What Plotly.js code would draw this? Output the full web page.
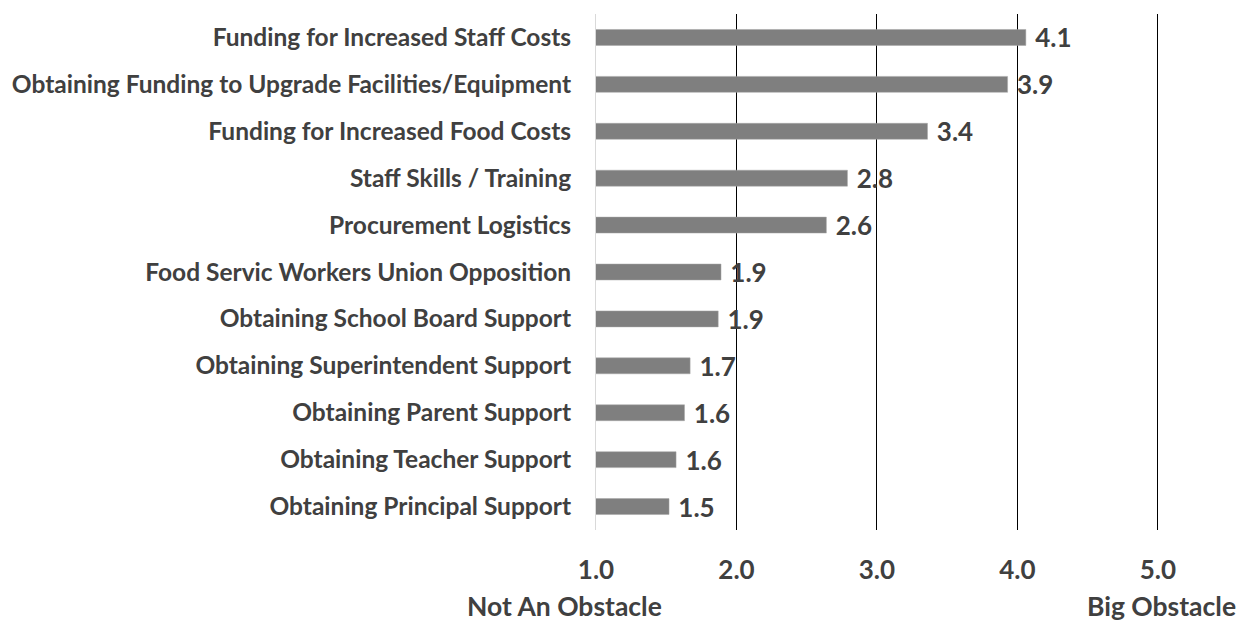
<!DOCTYPE html>
<html>
<head>
<meta charset="utf-8">
<script src="https://cdn.plot.ly/plotly-3.0.1.min.js"></script>
<style>html,body{margin:0;padding:0;background:#fff;}#chart{width:1249px;height:622px;}</style>
</head>
<body>
<div id="chart"></div>
<script>
const categories = [
  "Funding for Increased Staff Costs",
  "Obtaining Funding to Upgrade Facilities/Equipment",
  "Funding for Increased Food Costs",
  "Staff Skills / Training",
  "Procurement Logistics",
  "Food Servic Workers Union Opposition",
  "Obtaining School Board Support",
  "Obtaining Superintendent Support",
  "Obtaining Parent Support",
  "Obtaining Teacher Support",
  "Obtaining Principal Support"
];
const values = [4.06, 3.93, 3.36, 2.79, 2.64, 1.89, 1.87, 1.67, 1.63, 1.57, 1.52];
const tickVals = [1, 2, 3, 4, 5];
const tickText = ["1.0", "2.0", "3.0", "4.0", "5.0"];
const lowLabel = "Not An Obstacle";
const highLabel = "Big Obstacle";

const font = "Lato, 'Open Sans', sans-serif";
const txtColor = "#404040";

const trace = {
  type: "bar",
  orientation: "h",
  y: categories,
  x: values,
  marker: {color: "#7f7f7f", line: {color: "#a6a6a6", width: 0.5}},
  texttemplate: "\u00a0%{x:.1f}",
  textposition: "outside",
  constraintext: "none",
  cliponaxis: false,
  textfont: {family: font, size: 26, color: txtColor, weight: "bold"},
  hoverinfo: "skip"
};

const layout = {
  width: 1249,
  height: 622,
  margin: {l: 596, r: 56, t: 14, b: 92},
  paper_bgcolor: "#ffffff",
  plot_bgcolor: "#ffffff",
  showlegend: false,
  bargap: 0.66,
  font: {family: font, color: txtColor},
  xaxis: {
    range: [1, 5.25],
    tickvals: tickVals,
    ticktext: tickText,
    showgrid: true,
    gridcolor: "#000000",
    gridwidth: 1,
    zeroline: false,
    showline: false,
    ticks: "",
    ticklabelstandoff: 22,
    tickfont: {family: font, size: 26, color: txtColor, weight: "bold"},
    fixedrange: true
  },
  yaxis: {
    type: "category",
    autorange: "reversed",
    showline: true,
    linecolor: "#d9d9d9",
    linewidth: 1,
    showgrid: false,
    ticks: "",
    ticklabelstandoff: 19,
    tickfont: {family: font, size: 24.5, color: txtColor, weight: "bold"},
    fixedrange: true
  },
  annotations: [
    {text: lowLabel, x: 1, xref: "x", xanchor: "center", xshift: -32, y: 0, yref: "paper", yanchor: "top", yshift: -58, showarrow: false,
     font: {family: font, size: 26.5, color: txtColor, weight: "bold"}},
    {text: highLabel, x: 5, xref: "x", xanchor: "center", xshift: 4, y: 0, yref: "paper", yanchor: "top", yshift: -58, showarrow: false,
     font: {family: font, size: 26.5, color: txtColor, weight: "bold"}}
  ]
};

Plotly.newPlot("chart", [trace], layout, {displayModeBar: false, staticPlot: true});
</script>
</body>
</html>
